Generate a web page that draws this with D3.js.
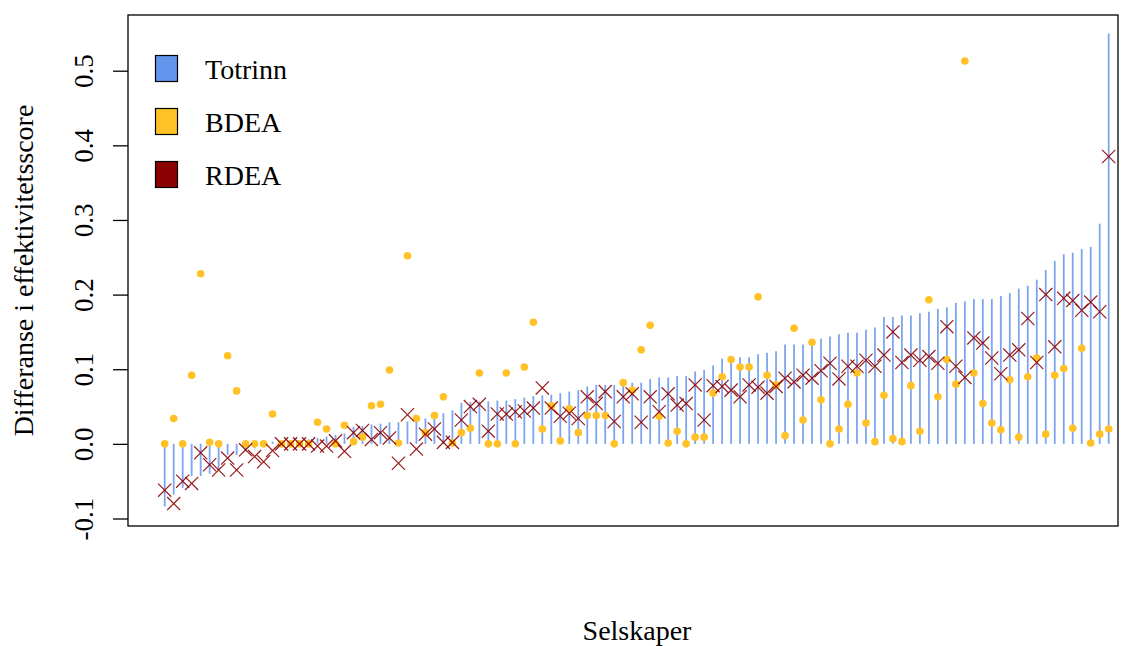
<!DOCTYPE html>
<html>
<head>
<meta charset="utf-8">
<script src="https://cdn.jsdelivr.net/npm/d3@7"></script>
<style>
  body { margin: 0; background: #fff; }
  svg { display: block; font-family: "Liberation Serif", "Times New Roman", serif; }
</style>
</head>
<body>
<script>
// forskjell i effektivitetsscore per selskap, sortert etter totrinn
const totrinn = [
  -0.084, -0.068, -0.059, -0.043, -0.043, -0.040, -0.035, -0.015, -0.015, -0.010,
  -0.006, -0.003, 0.003, 0.003, 0.004, 0.005, 0.006, 0.008, 0.010, 0.012,
  0.014, 0.023, 0.024, 0.026, 0.027, 0.029, 0.029, 0.030, 0.032, 0.034,
  0.037, 0.041, 0.045, 0.055, 0.056, 0.057, 0.057, 0.058, 0.058, 0.060,
  0.062, 0.064, 0.065, 0.066, 0.068, 0.070, 0.072, 0.077, 0.079, 0.079,
  0.079, 0.081, 0.082, 0.082, 0.087, 0.089, 0.089, 0.091, 0.091, 0.097,
  0.099, 0.105, 0.114, 0.115, 0.116, 0.116, 0.120, 0.122, 0.124, 0.133,
  0.133, 0.133, 0.136, 0.141, 0.144, 0.147, 0.149, 0.149, 0.153, 0.156,
  0.170, 0.170, 0.172, 0.172, 0.175, 0.177, 0.181, 0.183, 0.189, 0.191,
  0.194, 0.194, 0.194, 0.198, 0.202, 0.208, 0.212, 0.220, 0.233, 0.245,
  0.254, 0.256, 0.261, 0.264, 0.295, 0.550
];

const bdea = [
  0, 0.034, 0, 0.092, 0.228, 0.002, 0, 0.118, 0.071, 0,
  0, 0, 0.040, 0, 0, 0, 0, 0.029, 0.020, 0,
  0.025, 0.003, 0.009, 0.051, 0.053, 0.099, 0.001, 0.252, 0.034, 0.015,
  0.038, 0.063, 0.001, 0.015, 0.021, 0.095, 0, 0, 0.095, 0,
  0.103, 0.163, 0.020, 0.051, 0.004, 0.047, 0.015, 0.038, 0.038, 0.038,
  0, 0.082, 0.072, 0.126, 0.159, 0.037, 0.001, 0.017, 0, 0.009,
  0.009, 0.068, 0.090, 0.113, 0.103, 0.103, 0.197, 0.092, 0.079, 0.011,
  0.155, 0.032, 0.136, 0.059, 0, 0.020, 0.053, 0.095, 0.028, 0.003,
  0.065, 0.007, 0.003, 0.078, 0.017, 0.193, 0.063, 0.113, 0.080, 0.513,
  0.095, 0.054, 0.028, 0.019, 0.086, 0.009, 0.090, 0.115, 0.013, 0.092,
  0.101, 0.021, 0.128, 0.001, 0.013, 0.020
];

const rdea = [
  -0.062, -0.080, -0.050, -0.053, -0.012, -0.028, -0.035, -0.019, -0.035, -0.008,
  -0.017, -0.024, -0.009, 0, 0, 0, 0, -0.003, -0.003, 0.004,
  -0.010, 0.015, 0.018, 0.006, 0.015, 0.008, -0.026, 0.039, -0.007, 0.013,
  0.020, 0.002, 0.002, 0.032, 0.050, 0.053, 0.017, 0.040, 0.040, 0.043,
  0.044, 0.048, 0.075, 0.048, 0.037, 0.041, 0.034, 0.063, 0.054, 0.070,
  0.030, 0.063, 0.067, 0.029, 0.063, 0.043, 0.067, 0.052, 0.054, 0.079,
  0.032, 0.078, 0.077, 0.072, 0.063, 0.079, 0.076, 0.068, 0.077, 0.088,
  0.083, 0.092, 0.088, 0.098, 0.108, 0.087, 0.104, 0.104, 0.112, 0.104,
  0.119, 0.150, 0.109, 0.119, 0.112, 0.117, 0.108, 0.157, 0.104, 0.089,
  0.142, 0.135, 0.115, 0.094, 0.119, 0.126, 0.168, 0.109, 0.200, 0.130,
  0.195, 0.192, 0.179, 0.190, 0.177, 0.385
];

const yTicks = [-0.1, 0.0, 0.1, 0.2, 0.3, 0.4, 0.5];
const legendLabels = ['Totrinn', 'BDEA', 'RDEA'];
const colors = ['#6495ED', '#FFC125', '#8B0000'];

const width = 1134;
const height = 646;
const plot = { left: 128, top: 15, right: 1118, bottom: 526 };

const selskaper = d3.range(totrinn.length);

const svg = d3.select('body').append('svg')
  .attr('width', width)
  .attr('height', height);

svg.append('rect').attr('width', width).attr('height', height).attr('fill', '#fff');

const x = d3.scalePoint()
  .domain(selskaper)
  .range([164.7, 1108.7]);

const y = d3.scaleLinear()
  .domain([-0.1, 0.5])
  .range([518.5, 70.7]);

// totrinn som loddrette streker fra null
svg.append('g')
  .selectAll('line')
  .data(selskaper)
  .enter()
  .append('line')
  .attr('x1', (d) => x(d))
  .attr('x2', (d) => x(d))
  .attr('y1', y(0))
  .attr('y2', (d) => y(totrinn[d]))
  .attr('stroke', colors[0])
  .attr('stroke-opacity', 0.85)
  .attr('stroke-width', 1.8);

// BDEA punkter
svg.append('g')
  .selectAll('circle')
  .data(selskaper)
  .enter()
  .append('circle')
  .attr('cx', (d) => x(d))
  .attr('cy', (d) => y(bdea[d]))
  .attr('r', 3.8)
  .attr('fill', colors[1]);

// RDEA kryss
const cross = d3.symbol().type(d3.symbolX).size(115);
svg.append('g')
  .selectAll('path')
  .data(selskaper)
  .enter()
  .append('path')
  .attr('d', cross)
  .attr('transform', (d) => `translate(${x(d)},${y(rdea[d])})`)
  .attr('fill', 'none')
  .attr('stroke', colors[2])
  .attr('stroke-opacity', 0.9)
  .attr('stroke-width', 1.2);

// ramme
svg.append('rect')
  .attr('x', plot.left)
  .attr('y', plot.top)
  .attr('width', plot.right - plot.left)
  .attr('height', plot.bottom - plot.top)
  .attr('fill', 'none')
  .attr('stroke', '#000')
  .attr('stroke-width', 1.3);

const yAxis = d3.axisLeft(y)
  .tickValues(yTicks)
  .tickSize(15)
  .tickFormat((d) => d.toFixed(1));

const gy = svg.append('g')
  .attr('transform', `translate(${plot.left},0)`)
  .call(yAxis);
gy.select('.domain').remove();
gy.selectAll('.tick line').attr('stroke', '#000').attr('stroke-width', 1.3);
gy.selectAll('.tick text')
  .attr('x', 0)
  .attr('dy', 0)
  .attr('text-anchor', 'middle')
  .attr('transform', 'translate(-35,0) rotate(-90)')
  .attr('fill', '#000')
  .style('font-family', '"Liberation Serif", "Times New Roman", serif')
  .style('font-size', '27px');

// aksetitler
svg.append('text')
  .attr('transform', `translate(33,${(plot.top + plot.bottom) / 2}) rotate(-90)`)
  .attr('text-anchor', 'middle')
  .style('font-size', '28px')
  .text('Differanse i effektivitetsscore');

svg.append('text')
  .attr('x', 637)
  .attr('y', 640)
  .attr('text-anchor', 'middle')
  .style('font-size', '28px')
  .text('Selskaper');

// tegnforklaring
const legend = svg.append('g');
legendLabels.forEach((label, i) => {
  legend.append('rect')
    .attr('x', 155.5)
    .attr('y', 55.5 + i * 53)
    .attr('width', 22)
    .attr('height', 26)
    .attr('fill', colors[i])
    .attr('stroke', '#000')
    .attr('stroke-width', 1.2);
  legend.append('text')
    .attr('x', 205)
    .attr('y', 79 + i * 53)
    .style('font-size', '28px')
    .text(label);
});
</script>
</body>
</html>
